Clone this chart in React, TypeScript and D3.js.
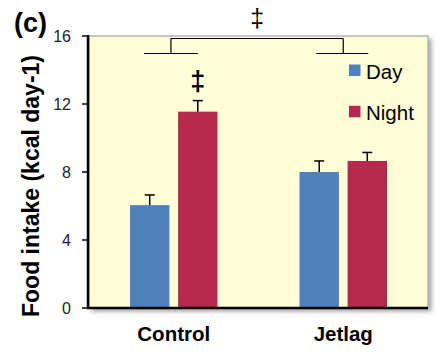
import React from "react";
import * as d3 from "d3";

// Food intake by group and period
const groups = ["Control", "Jetlag"];
const periods = ["Day", "Night"];
const dayMeans = [6.05, 8.0];
const nightMeans = [11.55, 8.65];
const dayErrors = [0.6, 0.65];
const nightErrors = [0.65, 0.5];
const yTicks = [0, 4, 8, 12, 16];

const colors: Record<string, string> = { Day: "#4F81BD", Night: "#B5294F" };

const W = 443;
const H = 354;
const plot = { left: 89, right: 428, top: 36, bottom: 308 };

export default function App() {
  const y = d3.scaleLinear().domain([0, 16]).range([plot.bottom, plot.top]);
  const x0 = d3.scaleBand<string>().domain(groups).range([plot.left, plot.right]).padding(0);
  const bw = x0.bandwidth();
  const groupSpan = 87.5;
  const x1 = d3
    .scaleBand<string>()
    .domain(periods)
    .range([(bw - groupSpan) / 2, (bw + groupSpan) / 2])
    .paddingInner(0.18);

  const bars = groups.flatMap((g, i) => [
    { g, p: "Day", v: dayMeans[i], e: dayErrors[i] },
    { g, p: "Night", v: nightMeans[i], e: nightErrors[i] },
  ]);

  const font = "'Liberation Sans', Arial, sans-serif";
  const cx = (g: string) => (x0(g) ?? 0) + bw / 2;
  const barCx = (g: string, p: string) => (x0(g) ?? 0) + (x1(p) ?? 0) + x1.bandwidth() / 2;

  // comparison bracket between the two groups
  const brTop = 38.5;
  const brBot = 53.5;
  const brL = barCx("Control", "Day") + x1.bandwidth() / 2 + 1.5;
  const brR = cx("Jetlag");
  const sideHalf = 27;

  return (
    <svg width={W} height={H} style={{ position: "absolute", left: 0, top: 0 }}>
      <defs>
        <filter id="shadow" x="-5%" y="-5%" width="115%" height="115%">
          <feDropShadow dx="3" dy="3" stdDeviation="2" floodColor="#000" floodOpacity="0.35" />
        </filter>
      </defs>
      <rect x={0} y={0} width={W} height={H} fill="#fff" />
      <rect
        x={plot.left}
        y={plot.top}
        width={plot.right - plot.left}
        height={plot.bottom - plot.top}
        fill="#FFFDD8"
        stroke="#A6A6A6"
        strokeWidth={1.2}
        filter="url(#shadow)"
      />

      {bars.map((b) => {
        const xb = (x0(b.g) ?? 0) + (x1(b.p) ?? 0);
        const xc = xb + x1.bandwidth() / 2;
        return (
          <g key={b.g + b.p}>
            <rect
              x={xb}
              y={y(b.v)}
              width={x1.bandwidth()}
              height={y(0) - y(b.v)}
              fill={colors[b.p]}
            />
            <line x1={xc} x2={xc} y1={y(b.v)} y2={y(b.v + b.e)} stroke="#000" strokeWidth={1.5} />
            <line x1={xc - 5} x2={xc + 5} y1={y(b.v + b.e)} y2={y(b.v + b.e)} stroke="#000" strokeWidth={1.5} />
          </g>
        );
      })}

      {/* axes */}
      <line x1={plot.left - 1} x2={plot.left - 1} y1={plot.top - 1} y2={plot.bottom + 1} stroke="#000" strokeWidth={2.5} />
      <line x1={plot.left - 2} x2={plot.right} y1={plot.bottom} y2={plot.bottom} stroke="#000" strokeWidth={2.5} />
      {yTicks.map((t) => (
        <g key={t}>
          <line x1={plot.left - 7} x2={plot.left} y1={y(t)} y2={y(t)} stroke="#000" strokeWidth={1.5} />
          <text
            x={71}
            y={y(t)}
            dy="0.36em"
            textAnchor="end"
            fontFamily={font}
            fontSize={16}
            fill="#222"
          >
            {t}
          </text>
        </g>
      ))}

      {groups.map((g) => (
        <text
          key={g}
          x={cx(g)}
          y={340.5}
          textAnchor="middle"
          fontFamily={font}
          fontWeight="bold"
          fontSize={20.5}
          fill="#000"
        >
          {g}
        </text>
      ))}

      <text
        transform={`translate(38.5,317) rotate(-90)`}
        textAnchor="start"
        fontFamily={font}
        fontWeight="bold"
        fontSize={23}
        fill="#000"
      >
        Food intake (kcal day-1)
      </text>

      <text x={14} y={32} fontFamily={font} fontWeight="bold" fontSize={27} fill="#000">
        (c)
      </text>

      {/* legend */}
      {periods.map((p, i) => (
        <g key={p} transform={`translate(349,${64.5 + i * 41.3})`}>
          <rect x={0} y={0} width={11.5} height={11.5} fill={colors[p]} />
          <text x={17} y={14.3} fontFamily={font} fontSize={20.5} fill="#000">
            {p}
          </text>
        </g>
      ))}

      {/* significance bracket */}
      <g stroke="#000" strokeWidth={1.2} fill="none">
        <line x1={brL} x2={brR} y1={brTop} y2={brTop} />
        <line x1={brL} x2={brL} y1={brTop} y2={brBot} />
        <line x1={brR} x2={brR} y1={brTop} y2={brBot} />
        <line x1={brL - sideHalf} x2={brL + sideHalf} y1={brBot} y2={brBot} />
        <line x1={brR - sideHalf} x2={brR + sideHalf - 2} y1={brBot} y2={brBot} />
      </g>
      <text x={(brL + brR) / 2} y={27} textAnchor="middle" fontFamily={font} fontSize={25} fill="#000">
        ‡
      </text>
      <text
        x={barCx("Control", "Night")}
        y={y(nightMeans[0] + nightErrors[0]) - 11}
        textAnchor="middle"
        fontFamily={font}
        fontWeight="bold"
        fontSize={27}
        fill="#000"
      >
        ‡
      </text>
    </svg>
  );
}
